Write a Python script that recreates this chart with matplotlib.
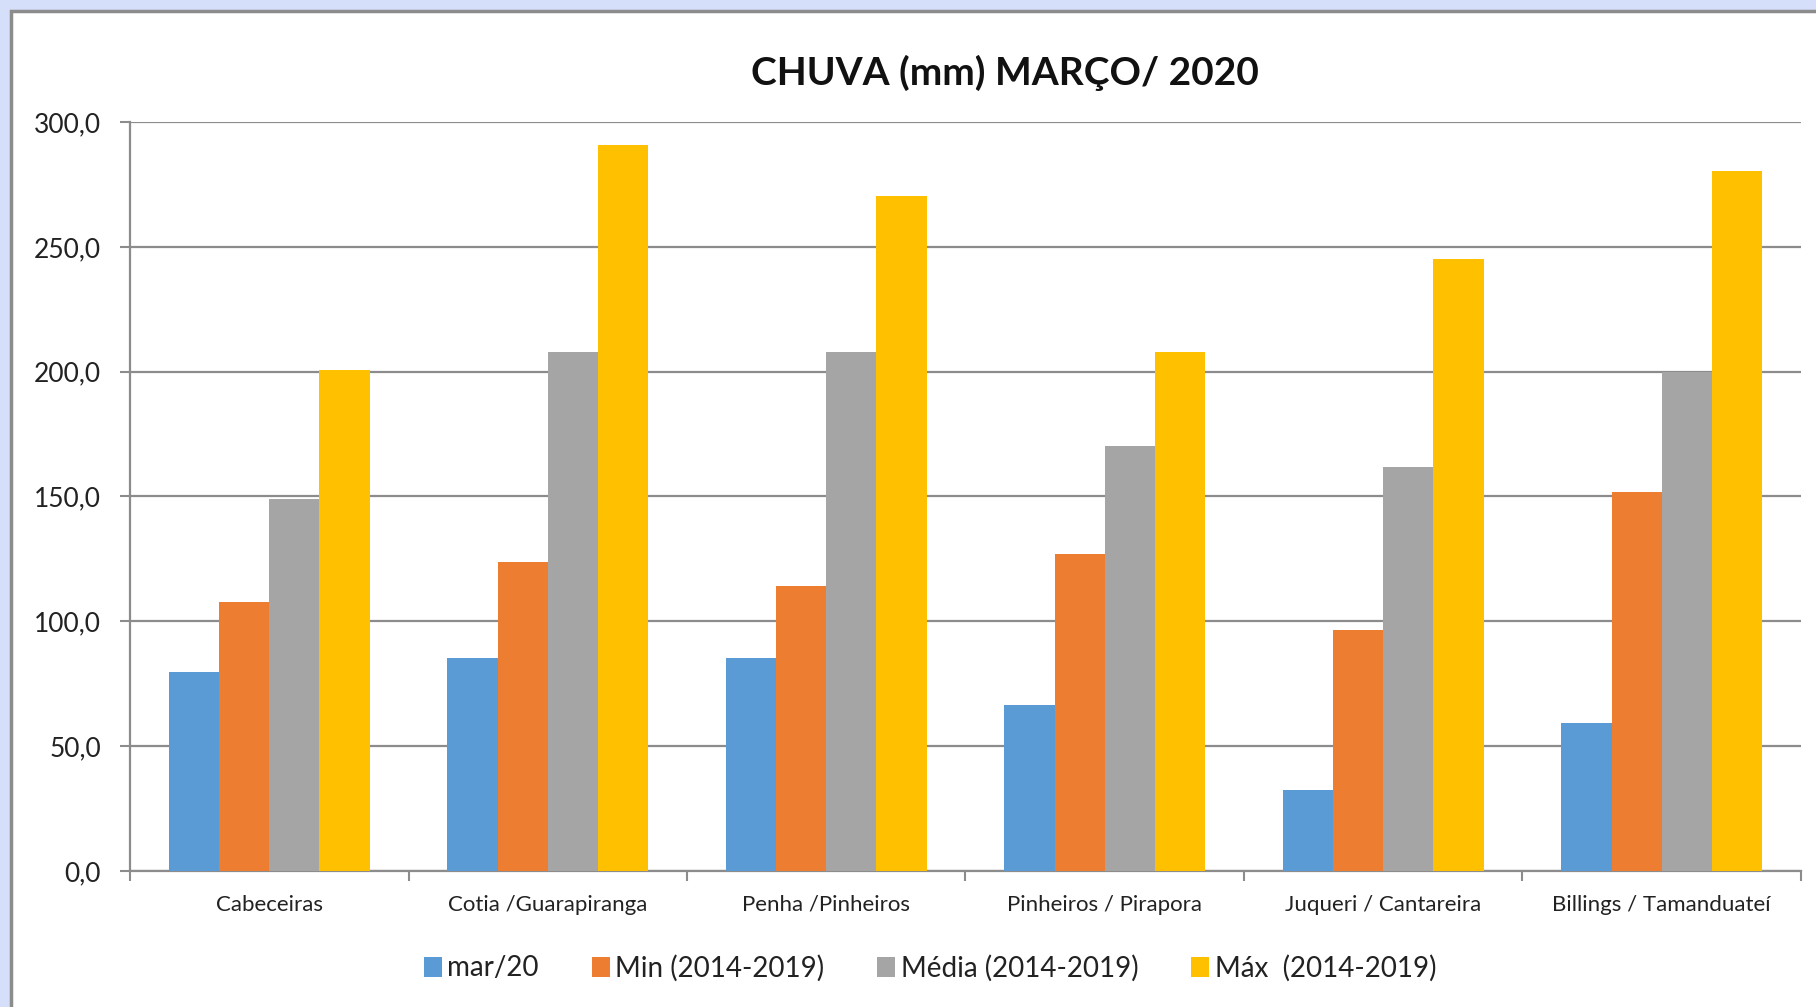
import numpy as np
import matplotlib
matplotlib.use('Agg')
import matplotlib.pyplot as plt
from matplotlib.patches import Rectangle
from matplotlib.ticker import FuncFormatter, FixedLocator

categorias = ['Cabeceiras', 'Cotia /Guarapiranga', 'Penha /Pinheiros',
              'Pinheiros / Pirapora', 'Juqueri / Cantareira', 'Billings / Tamanduateí']
series = ['mar/20', 'Min (2014-2019)', 'Média (2014-2019)', 'Máx  (2014-2019)']
mar20 = [79.7, 85.3, 85.3, 66.3, 32.5, 59.3]
minimo = [107.6, 123.8, 114.0, 127.0, 96.4, 152.0]
media = [148.8, 207.7, 207.7, 170.1, 161.8, 199.8]
maximo = [200.7, 290.7, 270.3, 207.7, 245.2, 280.5]
cores = ['#5B9BD5', '#ED7D31', '#A5A5A5', '#FFC000']

plt.rcParams['font.family'] = ['Lato', 'DejaVu Sans']

fig = plt.figure(figsize=(18.16, 10.07), dpi=100)
fig.patch.set_facecolor('#D6DFFA')
# moldura branca do gráfico
fig.add_artist(Rectangle((11 / 1816, -0.1), 1.1, 1.1 - 11 / 1007,
                         transform=fig.transFigure, facecolor='white',
                         edgecolor='#8C8C8C', linewidth=2.5, zorder=0))

ax = fig.add_axes([130 / 1816, 136 / 1007, 1671 / 1816, 749 / 1007])
ax.set_facecolor('white')

x = np.arange(len(categorias))
w = 0.18
for i, (vals, nome) in enumerate(zip([mar20, minimo, media, maximo], series)):
    ax.bar(x + (i - 1.5) * w, vals, w, color=cores[i], label=nome, zorder=3)

ax.set_xlim(-0.5, len(categorias) - 0.5)
ax.set_ylim(0, 300)
ax.set_yticks(np.arange(0, 301, 50))
ax.yaxis.set_major_formatter(FuncFormatter(lambda v, p: f'{v:.1f}'.replace('.', ',')))
ax.grid(axis='y', color='#8C8C8C', linewidth=1.6, zorder=0)

ax.xaxis.set_major_locator(FixedLocator(np.arange(-0.5, len(categorias), 1.0)))
ax.xaxis.set_major_formatter(FuncFormatter(lambda v, p: ''))
ax.xaxis.set_minor_locator(FixedLocator(x))
ax.set_xticklabels(categorias, minor=True)
ax.tick_params(axis='x', which='major', length=7, width=1.5, color='#8C8C8C')
ax.tick_params(axis='x', which='minor', length=0, pad=17, labelsize=16, labelcolor='#222222')
ax.tick_params(axis='y', length=7, width=1.5, color='#8C8C8C', pad=14,
               labelsize=19, labelcolor='#222222')

for s in ['top', 'right']:
    ax.spines[s].set_visible(False)
for s in ['left', 'bottom']:
    ax.spines[s].set_color('#8C8C8C')
    ax.spines[s].set_linewidth(1.6)

fig.text(1005 / 1816, 1 - 73 / 1007, 'CHUVA (mm) MARÇO/ 2020', ha='center', va='center',
         fontsize=28, fontweight='bold', color='#111111')

fig.legend(loc='center', bbox_to_anchor=(930 / 1816, 1 - 968 / 1007), ncol=4,
           frameon=False, fontsize=20, handlelength=0.65, handleheight=0.75,
           handletextpad=0.2, columnspacing=1.9, labelcolor='#222222')

fig.savefig('out.png', dpi=100, facecolor=fig.get_facecolor())
